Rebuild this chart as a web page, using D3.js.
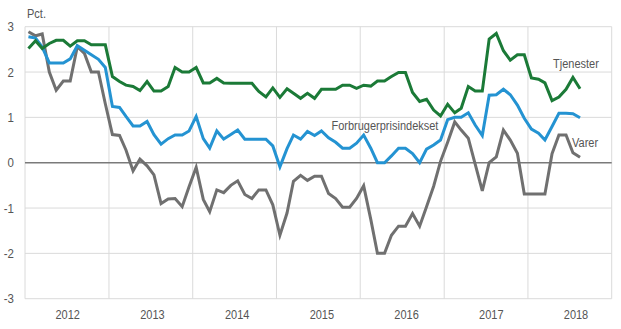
<!DOCTYPE html>
<html>
<head>
<meta charset="utf-8">
<script src="https://cdn.jsdelivr.net/npm/d3@7"></script>
<style>
  html, body { margin: 0; padding: 0; background: #fff; }
  svg { display: block; font-family: "Liberation Sans", Arial, sans-serif; }
</style>
</head>
<body>
<svg id="chart" width="621" height="329"></svg>
<script>
// ---- Data (annual % change, monthly, Jan 2012 – Aug 2018) ----
const firstMonth = "2012-01";
const monthCount = 80;

const tjenester = [
  2.52, 2.69, 2.52, 2.63, 2.70, 2.70, 2.57, 2.69, 2.69, 2.60, 2.60, 2.60,
  1.90, 1.79, 1.71, 1.68, 1.59, 1.79, 1.58, 1.58, 1.68, 2.10, 2.00, 2.00,
  2.10, 1.76, 1.76, 1.86, 1.76, 1.75, 1.75, 1.75, 1.75, 1.57, 1.45, 1.65,
  1.44, 1.63, 1.53, 1.42, 1.53, 1.42, 1.62, 1.62, 1.62, 1.71, 1.71, 1.64,
  1.71, 1.69, 1.80, 1.80, 1.90, 1.99, 1.99, 1.55, 1.35, 1.40, 1.16, 1.03,
  1.29, 1.10, 1.20, 1.68, 1.58, 1.58, 2.73, 2.85, 2.47, 2.26, 2.38, 2.38,
  1.87, 1.84, 1.76, 1.37, 1.45, 1.62, 1.88, 1.63
];

const forbrugerprisindekset = [
  2.78, 2.75, 2.55, 2.20, 2.20, 2.20, 2.29, 2.58, 2.48, 2.38, 2.28, 2.10,
  1.24, 1.22, 1.02, 0.81, 0.81, 0.91, 0.62, 0.41, 0.53, 0.61, 0.61, 0.70,
  1.02, 0.53, 0.32, 0.70, 0.52, 0.62, 0.72, 0.52, 0.52, 0.52, 0.52, 0.37,
  -0.09, 0.31, 0.61, 0.52, 0.69, 0.60, 0.70, 0.55, 0.45, 0.32, 0.32, 0.43,
  0.61, 0.32, 0.00, 0.00, 0.15, 0.32, 0.32, 0.20, 0.00, 0.30, 0.39, 0.50,
  0.95, 1.00, 1.00, 1.10, 0.83, 0.60, 1.49, 1.50, 1.62, 1.50, 1.27, 0.98,
  0.74, 0.65, 0.50, 0.80, 1.09, 1.09, 1.08, 0.99
];

const varer = [
  2.89, 2.80, 2.84, 2.00, 1.60, 1.80, 1.80, 2.56, 2.41, 2.00, 2.00, 1.30,
  0.62, 0.60, 0.28, -0.18, 0.08, -0.07, -0.27, -0.90, -0.80, -0.79, -0.97, -0.53,
  -0.10, -0.81, -1.08, -0.60, -0.66, -0.50, -0.40, -0.70, -0.79, -0.60, -0.60, -0.93,
  -1.60, -1.11, -0.41, -0.28, -0.39, -0.30, -0.30, -0.68, -0.79, -0.98, -0.98, -0.79,
  -0.51, -1.25, -2.00, -2.00, -1.60, -1.40, -1.40, -1.12, -1.40, -0.97, -0.52, 0.03,
  0.45, 0.90, 0.72, 0.54, -0.03, -0.62, 0.00, 0.13, 0.72, 0.50, 0.21, -0.69,
  -0.69, -0.69, -0.69, 0.20, 0.61, 0.61, 0.22, 0.12
];

const yTicks = [3, 2, 1, 0, -1, -2, -3];
const yearLabels = [2012, 2013, 2014, 2015, 2016, 2017, 2018];
const seriesNames = ["Tjenester", "Forbrugerprisindekset", "Varer"];
const seriesColors = ["#1b7a37", "#2493d2", "#707070"];
const unitLabel = "Pct.";

// ---- Layout ----
const svg = d3.select("#chart");
const plot = { left: 25, right: 611.7, top: 26.7, bottom: 298.7 };

const parseMonth = d3.timeParse("%Y-%m");
const start = parseMonth(firstMonth);
const months = d3.range(monthCount).map(i => d3.timeMonth.offset(start, i));
const midMonth = d => new Date(d.getFullYear(), d.getMonth(), 16);

const x = d3.scaleTime()
  .domain([new Date(2012, 0, 1), new Date(2019, 0, 1)])
  .range([plot.left, plot.right]);
const y = d3.scaleLinear().domain([-3, 3]).range([plot.bottom, plot.top]);
const xLabel = d3.scaleLinear().domain([2012, 2018]).range([67.7, 576]);

const textColor = "#555";
const gridColor = "#dadada";

// horizontal gridlines
svg.append("g").selectAll("line")
  .data(yTicks.filter(t => t !== 0))
  .join("line")
  .attr("x1", plot.left).attr("x2", plot.right)
  .attr("y1", d => y(d)).attr("y2", d => y(d))
  .attr("stroke", gridColor).attr("stroke-width", 1);

// vertical year gridlines (incl. edges)
const yearBounds = d3.range(2012, 2020).map(yr => new Date(yr, 0, 1));
svg.append("g").selectAll("line")
  .data(yearBounds)
  .join("line")
  .attr("x1", d => x(d)).attr("x2", d => x(d))
  .attr("y1", plot.top).attr("y2", plot.bottom)
  .attr("stroke", gridColor).attr("stroke-width", 1);

// zero line
svg.append("line")
  .attr("x1", plot.left).attr("x2", plot.right)
  .attr("y1", y(0)).attr("y2", y(0))
  .attr("stroke", "#7a7a7a").attr("stroke-width", 1.5);

// helper for slightly tall text
function tallText(g, tx, ty, str, anchor, size) {
  return g.append("text")
    .attr("transform", `translate(${tx},${ty}) scale(1,1.15)`)
    .attr("text-anchor", anchor || "start")
    .attr("font-size", size || 11)
    .attr("fill", textColor)
    .text(str);
}

// y tick labels
const yg = svg.append("g");
yTicks.forEach(t => tallText(yg, 14, y(t) + 4.5, String(t), "end", 11.5));

// unit label
tallText(svg, 27, 17.5, unitLabel, "start", 11);

// x year labels
const xg = svg.append("g");
yearLabels.forEach(yr => tallText(xg, xLabel(yr), 319, String(yr), "middle", 11));

// lines
const lineGen = d3.line()
  .x((d, i) => x(midMonth(months[i])))
  .y(d => y(d));

const allSeries = [tjenester, forbrugerprisindekset, varer];
// draw order: gray bottom, then blue, then green
[2, 1, 0].forEach(k => {
  svg.append("path")
    .datum(allSeries[k])
    .attr("fill", "none")
    .attr("stroke", seriesColors[k])
    .attr("stroke-width", 3)
    .attr("stroke-linejoin", "miter")
    .attr("d", lineGen);
});

// series labels
tallText(svg, 553, 68, seriesNames[0], "start", 11);
tallText(svg, 331.5, 129.5, seriesNames[1], "start", 11);
tallText(svg, 572, 146.5, seriesNames[2], "start", 11);
</script>
</body>
</html>
